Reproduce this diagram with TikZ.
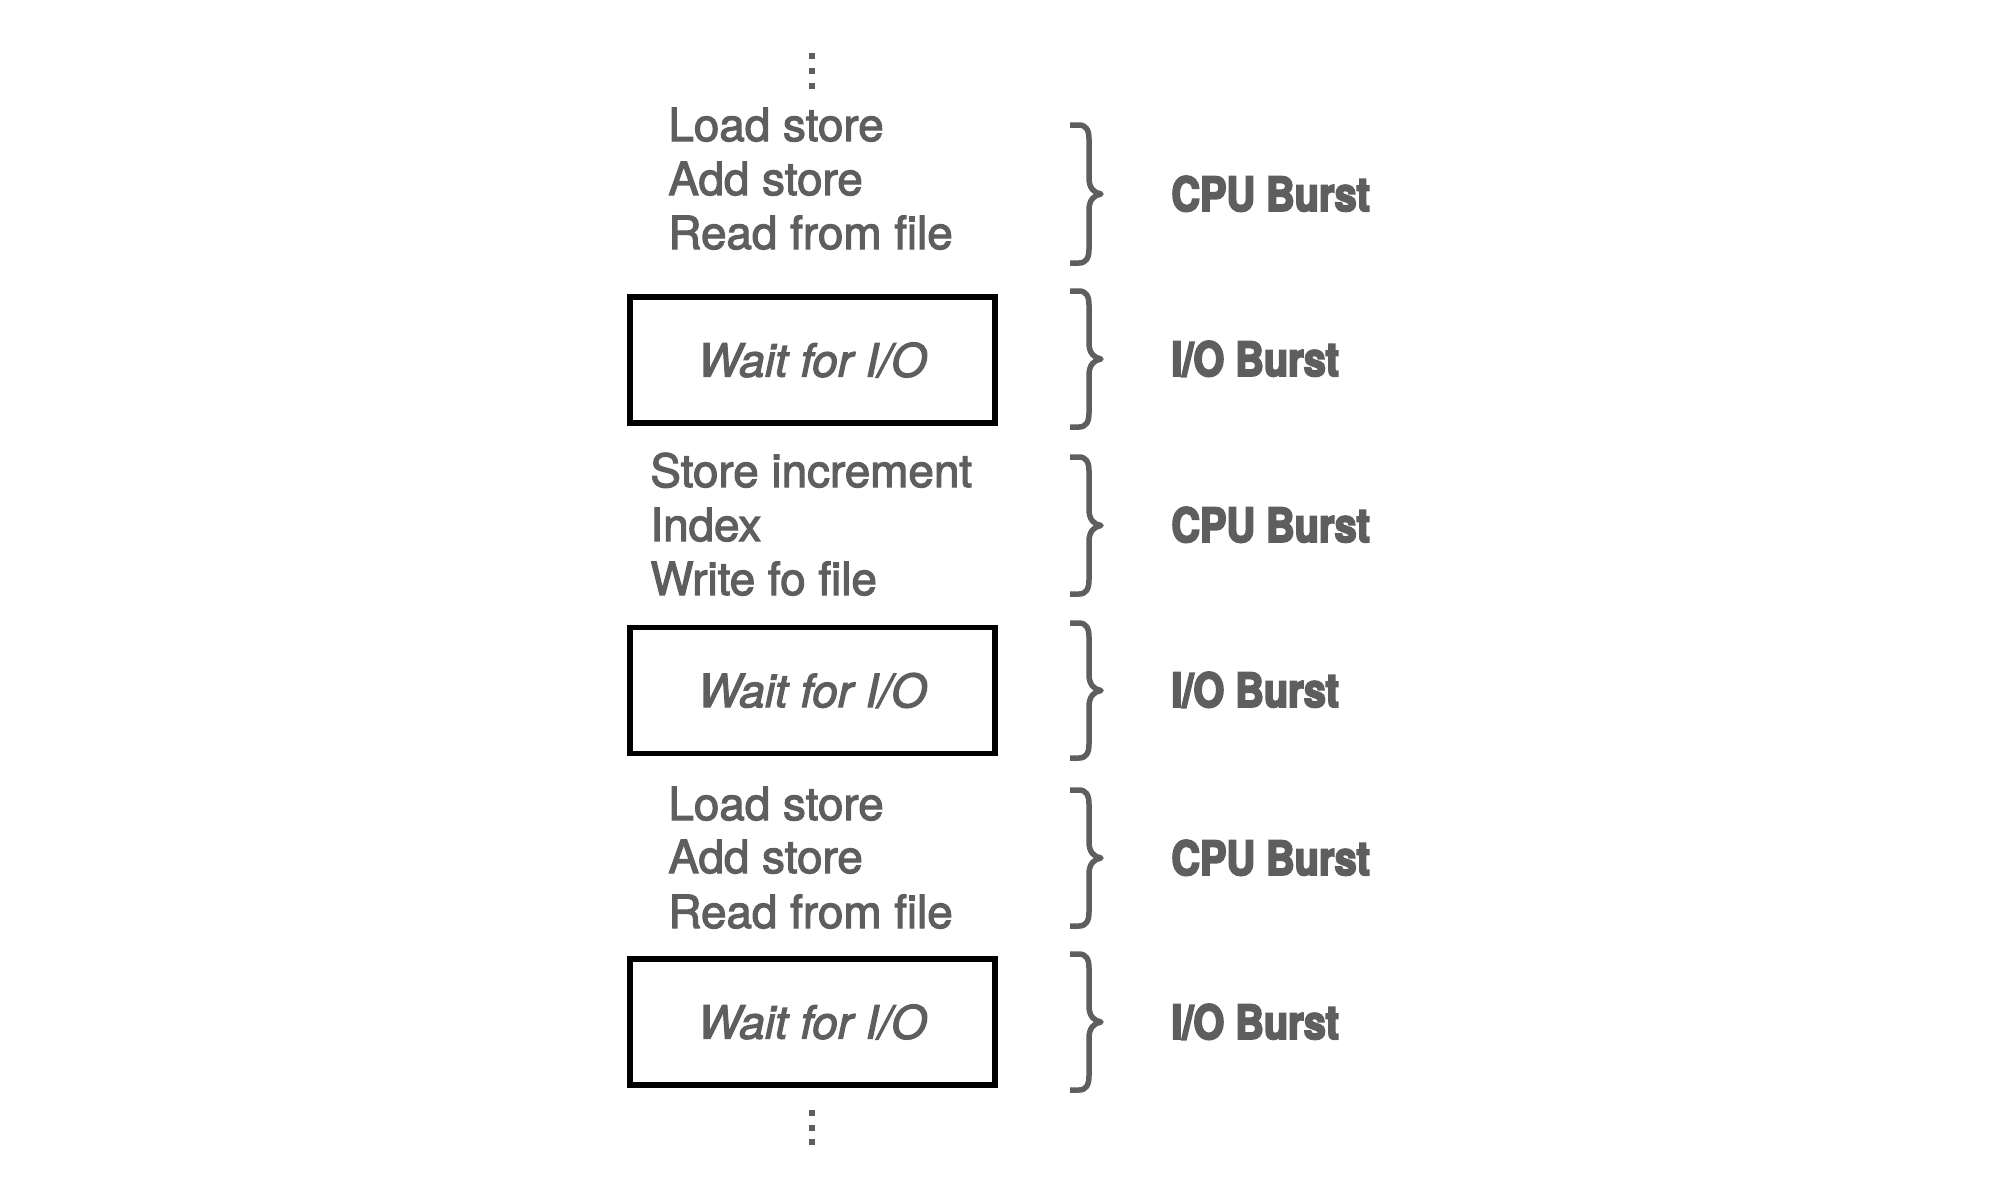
\documentclass[tikz,border=0pt]{standalone}
\usepackage{fontspec}
\setmainfont{TeX Gyre Heros}[FakeBold=2.5,ItalicFeatures={FakeBold=2.5}]
\newfontfamily\burstfont[BoldFeatures={FakeStretch=0.84,FakeBold=4}]{TeX Gyre Heros}
\definecolor{txtgray}{RGB}{94,94,94}
\tikzset{
  linetext/.style={anchor=base west, inner sep=0pt, text=txtgray, font=\fontsize{22.9pt}{27pt}\selectfont},
  waitbox/.style={draw=black, line width=2.6pt, minimum width=182.5pt, minimum height=63pt, inner sep=0pt, text=txtgray, font=\fontsize{22.9pt}{27pt}\selectfont\itshape},
  burstlabel/.style={anchor=base west, inner sep=0pt, text=txtgray, font=\fontsize{23.6pt}{27pt}\selectfont\burstfont\bfseries},
  bracestyle/.style={draw=txtgray, line width=2.75pt, line join=round, line cap=butt},
  dotstyle/.style={fill=txtgray}
}
\begin{document}
\begin{tikzpicture}[x=0.5pt, y=-0.5pt]
\useasboundingbox (0,0) rectangle (2000,1200);
% dots top
\foreach \yy in {56,71,86} {\fill[dotstyle] (809,\yy-3) rectangle (815,\yy+3);}
% group 1
\node[linetext] (l1) at (668,141) {Load store};
\node[linetext] (l2) at (668,195) {Add store};
\node[linetext] (l3) at (668,249) {Read from file};
% box 1
\node[waitbox] (w1) at (812.5,360) {Wait for I/O};
% group 2
\node[linetext] (s1) at (650,487) {Store increment};
\node[linetext] (s2) at (650,541) {Index};
\node[linetext] (s3) at (650,595) {Write fo file};
% box 2
\node[waitbox] (w2) at (812.5,690.5) {Wait for I/O};
% group 3
\node[linetext] (t1) at (668,820) {Load store};
\node[linetext] (t2) at (668,873) {Add store};
\node[linetext] (t3) at (668,928) {Read from file};
% box 3
\node[waitbox] (w3) at (812.5,1022) {Wait for I/O};
% dots bottom
\foreach \yy in {1113,1128,1142} {\fill[dotstyle] (809,\yy-3) rectangle (815,\yy+3);}
% braces
\foreach \ya/\yb in {125/263, 291/427, 457/594, 623/758, 790/926, 954/1090} {
  \pgfmathsetmacro{\ym}{(\ya+\yb)/2}
  \draw[bracestyle] (1070,\ya) -- (1079,\ya)
    .. controls (1086,\ya) and (1089,\ya+5) .. (1089,\ya+14)
    -- (1089,\ym-16)
    .. controls (1089,\ym-6) and (1094,\ym-1) .. (1101,\ym)
    .. controls (1094,\ym+1) and (1089,\ym+6) .. (1089,\ym+16)
    -- (1089,\yb-14)
    .. controls (1089,\yb-5) and (1086,\yb) .. (1079,\yb)
    -- (1070,\yb);
}
% labels
\node[burstlabel] (b1) at (1171,211) {CPU Burst};
\node[burstlabel] (b2) at (1171,376) {I/O Burst};
\node[burstlabel] (b3) at (1171,542) {CPU Burst};
\node[burstlabel] (b4) at (1171,707) {I/O Burst};
\node[burstlabel] (b5) at (1171,875) {CPU Burst};
\node[burstlabel] (b6) at (1171,1039) {I/O Burst};
\end{tikzpicture}
\end{document}
